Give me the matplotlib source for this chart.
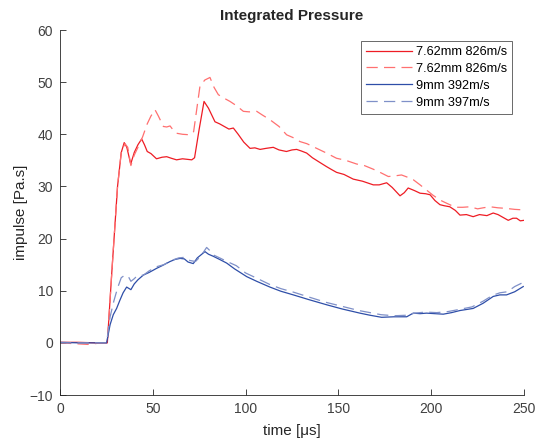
import numpy as np
import matplotlib.pyplot as plt

plt.rcParams['font.family'] = ['Liberation Sans', 'DejaVu Sans']

# 7.62mm 826m/s (solid)
t_r1 = [0, 10, 20, 25.5, 28, 31, 33, 34.6, 36, 38.1, 40, 42, 44, 45.5, 47, 49, 52, 55, 57.5, 60, 62.8, 66, 71, 72.5,
        75, 77.6, 80, 83.5, 86, 88, 91, 93.4, 96, 99, 102.4, 105, 107.8, 111, 114.9, 118, 122, 125, 127.5, 130, 132.9,
        136, 140, 143.6, 146, 149, 153, 158, 163, 168.8, 172, 176, 179, 183.2, 185.5, 187.6, 191, 194, 197, 199.4,
        202, 204.7, 207, 210, 213, 215.5, 219, 222.6, 226, 230, 233.4, 236, 239, 241.5, 244, 246, 248, 250]
v_r1 = [0.1, 0.1, 0.0, 0.0, 14, 30, 36.5, 38.4, 37.5, 34.3, 36.5, 38.0, 39.1, 38.0, 36.7, 36.3, 35.3, 35.6, 35.7, 35.4,
        35.1, 35.3, 35.1, 35.5, 41, 46.3, 45.0, 42.4, 42.0, 41.6, 41.0, 41.2, 40.0, 38.5, 37.3, 37.4, 37.1, 37.3,
        37.5, 37.0, 36.7, 37.0, 37.1, 36.8, 36.4, 35.5, 34.6, 33.8, 33.3, 32.7, 32.3, 31.4, 31.0, 30.3, 30.3, 30.7,
        29.8, 28.2, 28.8, 29.7, 29.2, 28.7, 28.6, 28.4, 27.3, 26.5, 26.3, 26.1, 25.4, 24.5, 24.6, 24.2, 24.6, 24.4,
        24.9, 24.6, 24.0, 23.5, 23.9, 23.9, 23.4, 23.5]

# 7.62mm 826m/s (dashed)
t_r2 = [0, 10, 15, 20, 25.5, 28, 31, 33, 35, 36.5, 38.2, 40, 42, 44.5, 47, 49, 51.2, 53, 55.7, 57.5, 59.3, 61, 62.8,
        66, 70, 72, 75.4, 78, 80.8, 83, 85.3, 88, 91.6, 95, 98.8, 102, 106, 109, 113.1, 118, 122.1, 126, 129.3,
        133, 138.3, 143, 149, 154, 159.8, 164, 168.8, 173, 176.9, 180, 184, 187, 190.3, 194, 197.5, 201, 204.7,
        207, 210, 213, 217, 220.9, 225, 228, 231.7, 236, 240, 245, 249.6]
v_r2 = [0.0, -0.2, -0.3, -0.1, 0.0, 14, 30, 36.5, 38.2, 37.5, 34.0, 36.0, 37.5, 39.5, 42.0, 43.5, 44.7, 43.5, 41.5, 41.4,
        41.6, 40.8, 40.2, 40.0, 39.9, 40.5, 49.2, 50.4, 50.9, 49.0, 47.6, 47.0, 46.3, 45.5, 44.4, 44.3, 44.4, 43.7,
        42.8, 41.5, 39.9, 39.3, 38.6, 38.2, 37.3, 36.5, 35.4, 35.0, 34.3, 34.0, 33.3, 32.6, 31.9, 32.0, 32.2, 31.8,
        31.3, 30.3, 29.3, 28.3, 27.4, 27.0, 26.5, 26.0, 26.0, 26.1, 25.7, 25.9, 26.1, 25.9, 25.8, 25.6, 25.5]

# 9mm 392m/s (solid)
t_b1 = [0, 10, 20, 25.1, 27, 28.7, 30.5, 32.3, 34, 35.9, 38.2, 40, 42, 44.9, 48, 52.1, 55, 59.3, 62, 64.7, 67, 69,
        71.8, 74, 78.1, 80, 82.6, 86, 89.8, 94, 100.6, 106, 113.1, 119, 125.7, 134, 143.7, 152, 161.6, 167, 173.3,
        180, 186.8, 190.3, 194, 197.5, 202, 206.5, 211, 215.5, 222.6, 228, 233.4, 237, 240.6, 245, 249.6]
v_b1 = [0.1, 0.0, 0.0, 0.0, 3.5, 5.4, 6.6, 8.2, 9.6, 10.7, 10.2, 11.3, 12.1, 13.0, 13.5, 14.3, 14.8, 15.6, 16.0, 16.2,
        16.1, 15.5, 15.2, 16.3, 17.5, 17.0, 16.6, 16.0, 15.3, 14.2, 12.7, 11.8, 10.7, 9.9, 9.2, 8.3, 7.3, 6.5, 5.7,
        5.3, 4.9, 5.0, 5.0, 5.7, 5.6, 5.7, 5.6, 5.5, 5.8, 6.2, 6.6, 7.6, 8.9, 9.2, 9.2, 9.8, 10.8]

# 9mm 397m/s (dashed)
t_b2 = [0, 10, 20, 25.1, 27, 29, 31, 33, 35, 37, 38.2, 40, 41.4, 45, 48, 52, 56, 60, 64, 67, 70, 73, 76, 79, 81, 83,
        86, 90, 95, 100, 106, 113, 119, 126, 134, 143, 152, 161, 167, 173, 180, 187, 191, 197, 203, 209, 215,
        222, 228, 233, 237, 241, 245, 249.6]
v_b2 = [0.0, 0.0, 0.0, 0.0, 5.0, 8.0, 10.5, 12.5, 13.0, 12.6, 11.8, 12.3, 12.8, 13.0, 13.8, 14.6, 15.0, 15.8, 16.3, 16.4,
        15.8, 15.6, 16.7, 18.3, 17.6, 16.8, 16.3, 15.6, 14.8, 13.4, 12.4, 11.2, 10.4, 9.7, 8.8, 7.8, 7.0, 6.2,
        5.8, 5.4, 5.2, 5.3, 5.7, 5.9, 5.8, 6.0, 6.4, 6.9, 8.0, 9.1, 9.6, 9.8, 10.8, 11.6]

fig = plt.figure(figsize=(5.36, 4.4), dpi=100)
ax = fig.add_axes([60/536, 45/440, 464/536, 365/440])

ax.plot(t_r1, v_r1, color='#ee1c24', lw=0.9, label='7.62mm 826m/s')
ax.plot(t_r2, v_r2, color='#ff7070', lw=0.9, ls=(0, (9, 5)), label='7.62mm 826m/s')
ax.plot(t_b1, v_b1, color='#2e4ea8', lw=0.9, label='9mm 392m/s')
ax.plot(t_b2, v_b2, color='#7f90c8', lw=0.9, ls=(0, (9, 5)), label='9mm 397m/s')

ax.set_xlim(0, 250)
ax.set_ylim(-10, 60)
ax.set_xticks(np.arange(0, 251, 50))
ax.set_yticks(np.arange(-10, 61, 10))
ax.tick_params(direction='in', length=4, width=0.6, color='#262626', labelcolor='#404040',
               labelsize=10, pad=5, top=False, right=False)
for s in ax.spines.values():
    s.set_color('#262626')
    s.set_linewidth(0.6)
ax.spines['top'].set_visible(False)
ax.spines['right'].set_visible(False)

ax.set_xlabel('time [\u03bcs]', fontsize=11, color='#262626', labelpad=6)
ax.set_ylabel('impulse [Pa.s]', fontsize=11, color='#262626', labelpad=1)
ax.set_title('Integrated Pressure', fontsize=11, fontweight='bold', color='#262626', pad=7)

leg = ax.legend(loc='upper right', bbox_to_anchor=(0.974, 0.97), fontsize=9.2, frameon=True, fancybox=False,
                handlelength=3.6, handletextpad=0.3, borderpad=0.4, labelspacing=0.38, borderaxespad=0)
leg.get_frame().set_edgecolor('#262626')
leg.get_frame().set_linewidth(0.6)

fig.savefig('out.png', dpi=100)
